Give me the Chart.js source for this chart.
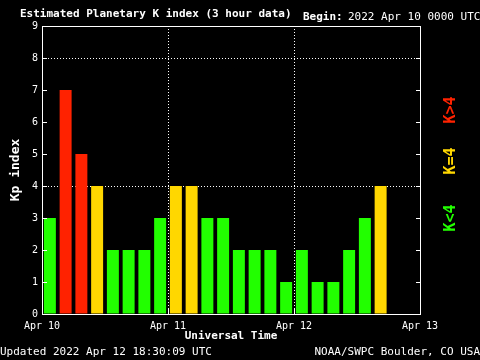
<!DOCTYPE html>
<html>
<head>
<meta charset="utf-8">
<title>Estimated Planetary K index</title>
<script src="https://cdn.jsdelivr.net/npm/chart.js@4.4.1/dist/chart.umd.min.js"></script>
<style>
  html, body { margin: 0; padding: 0; background: #000; }
  canvas { display: block; }
</style>
</head>
<body>
<canvas id="kpChart" width="480" height="360"></canvas>
<script>
// 3-hour slots starting 2022 Apr 10 00:00 UTC
const slots = [
    '10 00', '10 03', '10 06', '10 09', '10 12', '10 15', '10 18', '10 21',
    '11 00', '11 03', '11 06', '11 09', '11 12', '11 15', '11 18', '11 21',
    '12 00', '12 03', '12 06', '12 09', '12 12', '12 15', '12 18', '12 21'
];
const kpValues = [
    3, 7, 5, 4, 2, 2, 2, 3,
    4, 4, 3, 3, 2, 2, 2, 1,
    2, 1, 1, 2, 3, 4, null, null
];
const dayLabels = ['Apr 10', 'Apr 11', 'Apr 12', 'Apr 13'];
const kpTicks = [0, 1, 2, 3, 4, 5, 6, 7, 8, 9];

const FONT = "'DejaVu Sans Mono', 'Liberation Mono', monospace";
const GREEN = '#22ff00';
const YELLOW = '#ffd700';
const RED = '#ff2200';

const barColors = kpValues.map((v) => {
    if (v > 4) return RED;
    if (v === 4) return YELLOW;
    return GREEN;
});

const frame = {
    id: 'frame',
    beforeDraw(chart) {
        const ctx = chart.ctx;
        ctx.save();
        ctx.fillStyle = '#000';
        ctx.fillRect(0, 0, chart.width, chart.height);
        ctx.restore();
    },
    afterDraw(chart) {
        const ctx = chart.ctx;
        const a = chart.chartArea;
        const y = chart.scales.y;
        const days = chart.scales.days;
        ctx.save();
        ctx.strokeStyle = '#fff';
        ctx.lineWidth = 1;
        ctx.strokeRect(a.left + 0.5, a.top + 0.5, a.right - a.left, a.bottom - a.top);

        // small inner ticks
        ctx.beginPath();
        kpTicks.forEach((v) => {
            const py = Math.round(y.getPixelForValue(v)) + 0.5;
            ctx.moveTo(a.left, py);
            ctx.lineTo(a.left + 5, py);
            ctx.moveTo(a.right - 4, py);
            ctx.lineTo(a.right + 1, py);
        });
        [1, 2].forEach((d) => {
            const px = Math.round(days.getPixelForValue(d)) + 0.5;
            ctx.moveTo(px, a.bottom - 6);
            ctx.lineTo(px, a.bottom);
        });
        ctx.stroke();

        // header
        ctx.fillStyle = '#fff';
        ctx.textBaseline = 'middle';
        ctx.textAlign = 'left';
        ctx.font = 'bold 11px ' + FONT;
        ctx.fillText('Estimated Planetary K index (3 hour data)', 20, 14);
        ctx.fillText('Begin:', 303, 17);
        ctx.font = '11px ' + FONT;
        ctx.fillText('2022 Apr 10 0000 UTC', 348, 17);

        // footer
        ctx.fillText('Updated 2022 Apr 12 18:30:09 UTC', 0, 352);
        ctx.textAlign = 'right';
        ctx.fillText('NOAA/SWPC Boulder, CO USA', 480, 352);

        // colour key on the right
        ctx.font = 'bold 15px ' + FONT;
        ctx.textAlign = 'center';
        [['K>4', RED, 110], ['K=4', YELLOW, 161], ['K<4', GREEN, 218]].forEach(([txt, col, cy]) => {
            ctx.save();
            ctx.translate(451, cy);
            ctx.rotate(-Math.PI / 2);
            ctx.fillStyle = col;
            ctx.fillText(txt, 0, 0);
            ctx.restore();
        });
        ctx.restore();
    }
};

new Chart(document.getElementById('kpChart'), {
    type: 'bar',
    data: {
        labels: slots,
        datasets: [{
            data: kpValues,
            backgroundColor: barColors,
            borderWidth: 0,
            categoryPercentage: 1,
            barPercentage: 0.76,
            xAxisID: 'x',
            yAxisID: 'y'
        }]
    },
    options: {
        responsive: false,
        animation: false,
        devicePixelRatio: 1,
        layout: { padding: { top: 26, right: 60, left: 0, bottom: 0 } },
        plugins: {
            legend: { display: false },
            tooltip: { enabled: false },
            title: { display: false }
        },
        scales: {
            x: {
                type: 'category',
                display: false,
                offset: true
            },
            days: {
                type: 'linear',
                position: 'bottom',
                min: 0,
                max: 3,
                z: 1,
                offset: false,
                afterBuildTicks(s) {
                    s.ticks = dayLabels.map((_, i) => ({ value: i }));
                },
                afterFit(s) {
                    s.height = 46;
                },
                ticks: {
                    color: '#fff',
                    font: { family: FONT, size: 10 },
                    padding: 6,
                    maxRotation: 0,
                    autoSkip: false,
                    callback: (v, i) => dayLabels[i]
                },
                grid: {
                    offset: false,
                    drawTicks: false,
                    lineWidth: 1,
                    color: (c) => (c.tick && c.tick.value > 0 && c.tick.value < 3) ? '#fff' : 'rgba(0,0,0,0)'
                },
                border: { display: false, dash: [1, 2] },
                title: {
                    display: true,
                    text: 'Universal Time',
                    color: '#fff',
                    font: { family: FONT, size: 11, weight: 'bold' },
                    padding: { top: 0, bottom: 17 }
                }
            },
            y: {
                min: 0,
                max: 9,
                z: 1,
                afterBuildTicks(s) {
                    s.ticks = kpTicks.map((v) => ({ value: v }));
                },
                afterFit(s) {
                    s.width = 42;
                },
                ticks: {
                    color: '#fff',
                    font: { family: FONT, size: 10 },
                    padding: 4
                },
                grid: {
                    drawTicks: false,
                    lineWidth: 1,
                    color: (c) => (c.tick && (c.tick.value === 4 || c.tick.value === 8)) ? '#fff' : 'rgba(0,0,0,0)'
                },
                border: { display: false, dash: [1, 2] },
                title: {
                    display: true,
                    text: 'Kp index',
                    color: '#fff',
                    font: { family: FONT, size: 13, weight: 'bold' },
                    padding: { top: 8, bottom: 0 }
                }
            }
        }
    },
    plugins: [frame]
});
</script>
</body>
</html>
